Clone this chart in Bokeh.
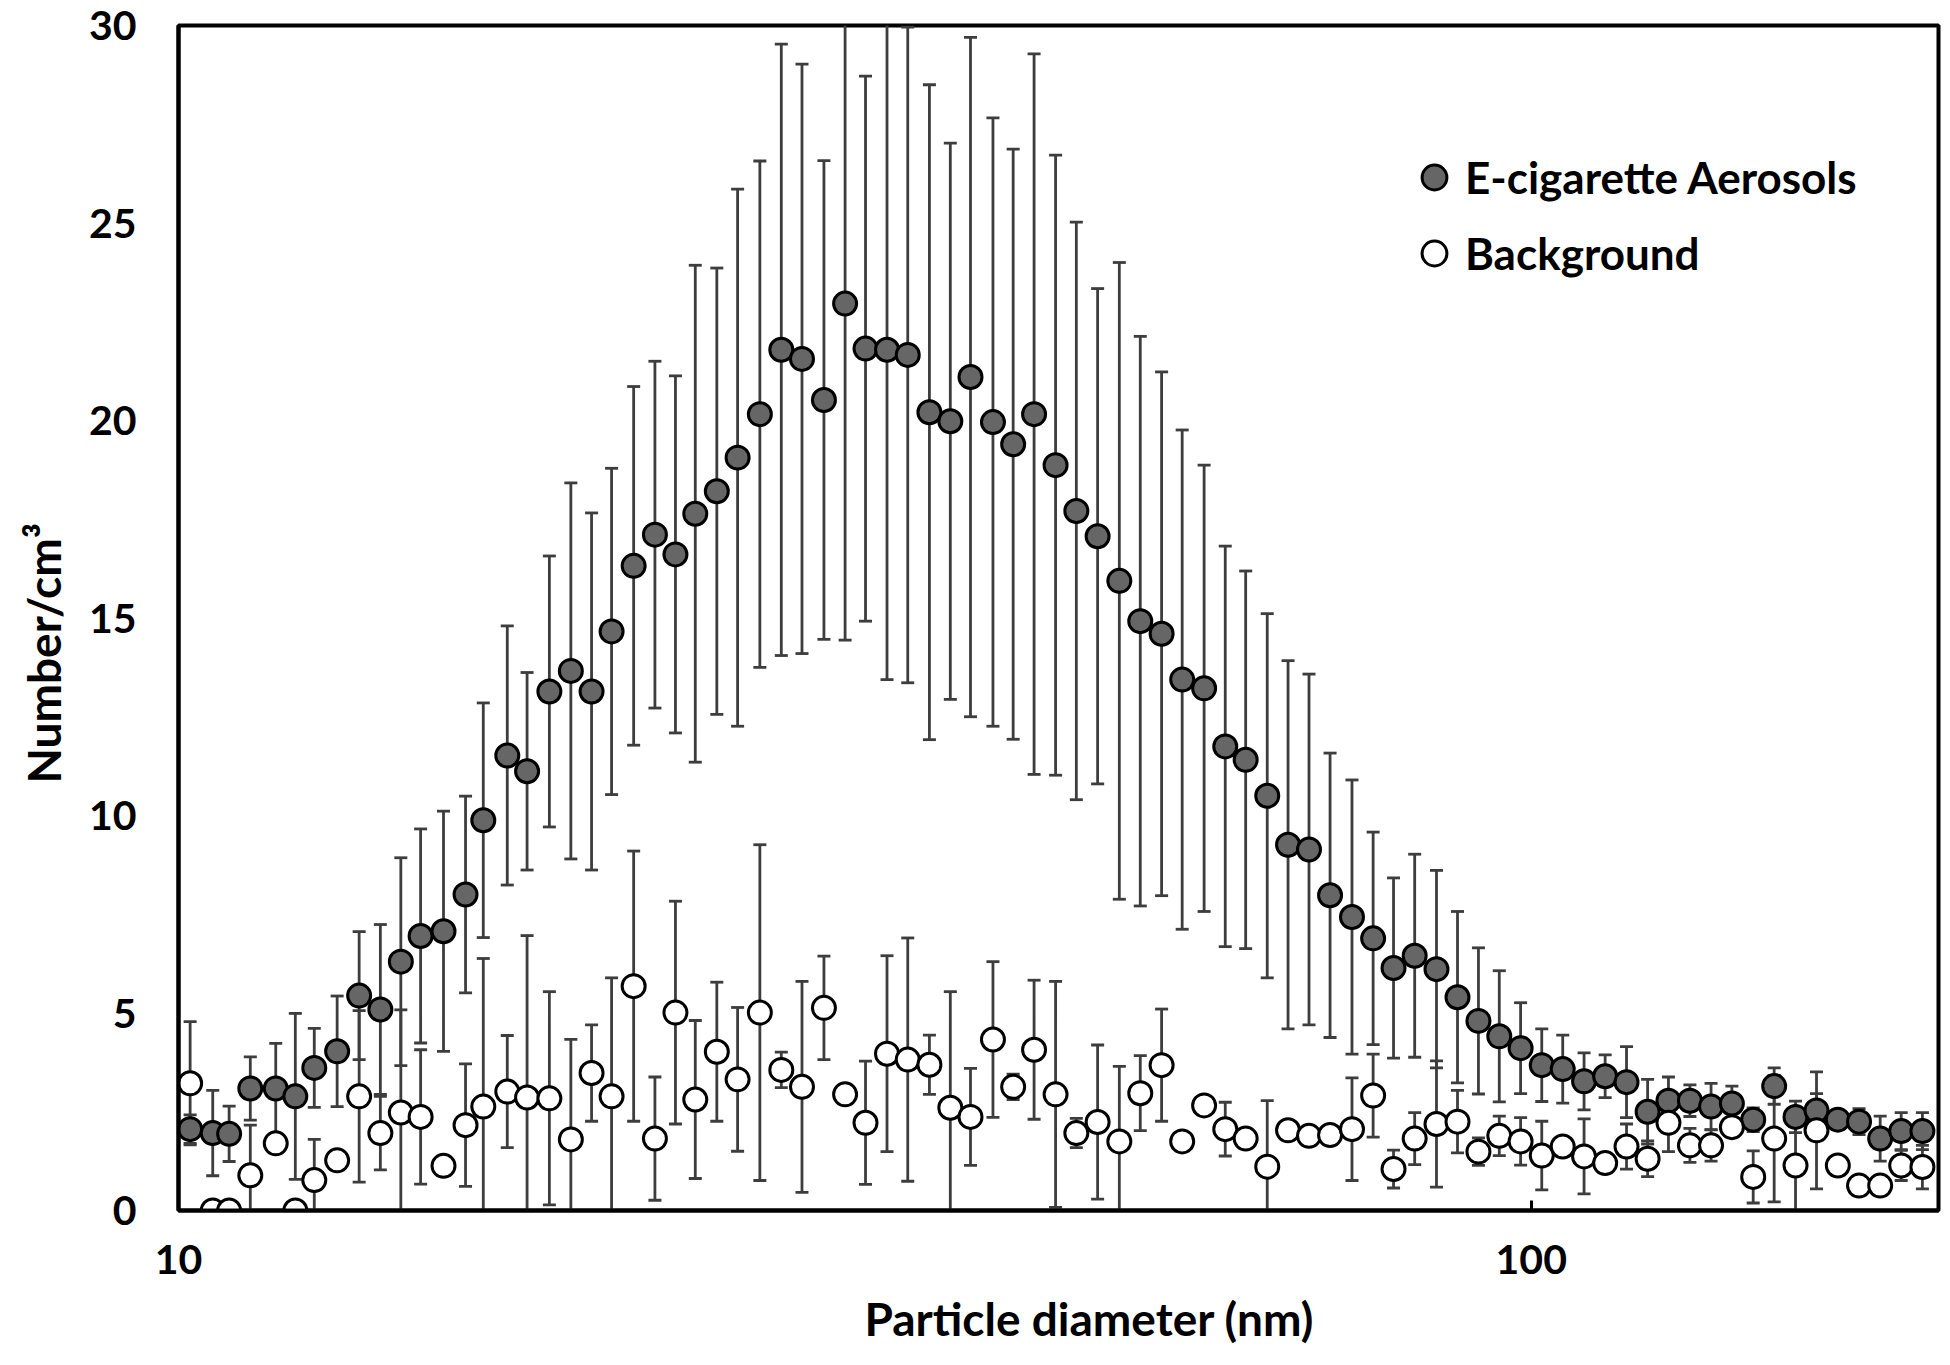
from bokeh.plotting import figure
from bokeh.models import ColumnDataSource, Range1d, FixedTicker, Legend, LegendItem, Title
from bokeh.embed import file_html
from bokeh.resources import INLINE

# ---------------- data ----------------
diameter_nm = [10.2, 10.6, 10.9, 11.3, 11.8, 12.2, 12.6, 13.1, 13.6, 14.1, 14.6, 15.1, 15.7, 16.3,
               16.8, 17.5, 18.1, 18.8, 19.5, 20.2, 20.9, 21.7, 22.5, 23.3, 24.1, 25.0, 25.9, 26.9,
               27.9, 28.9, 30.0, 31.1, 32.2, 33.4, 34.6, 35.9, 37.2, 38.5, 40.0, 41.4, 42.9, 44.5,
               46.1, 47.8, 49.6, 51.4, 53.3, 55.2, 57.3, 59.4, 61.5, 63.8, 66.1, 68.5, 71.0, 73.7,
               76.4, 79.1, 82.0, 85.1, 88.2, 91.4, 94.7, 98.2, 101.8, 105.5, 109.4, 113.4, 117.6,
               121.9, 126.3, 131.0, 135.8, 140.7, 145.9, 151.2, 156.8, 162.5, 168.5, 174.7, 181.1,
               187.7, 194.6]

ecig_mean = [2.06, 1.96, 1.94, 3.09, 3.09, 2.89, 3.61, 4.03, 5.44, 5.09, 6.30, 6.95, 7.07, 8.00,
             9.88, 11.52, 11.12, 13.14, 13.66, 13.14, 14.66, 16.32, 17.11, 16.61, 17.64, 18.21, 19.06,
             20.16, 21.79, 21.56, 20.52, 22.96, 21.82, 21.79, 21.66, 20.21, 19.98, 21.10, 19.96, 19.40,
             20.16, 18.87, 17.71, 17.07, 15.94, 14.92, 14.60, 13.44, 13.22, 11.75, 11.41, 10.50, 9.26,
             9.14, 7.98, 7.43, 6.89, 6.14, 6.45, 6.11, 5.40, 4.80, 4.41, 4.11, 3.68, 3.58, 3.27, 3.40,
             3.25, 2.50, 2.78, 2.78, 2.63, 2.71, 2.30, 3.15, 2.37, 2.53, 2.30, 2.25, 1.82, 2.01, 2.01]

ecig_sd = [0.36, 1.08, 0.70, 0.80, 1.14, 2.10, 1.00, 1.40, 1.62, 2.15, 2.63, 2.71, 3.04, 2.49,
           2.97, 3.28, 2.50, 3.43, 4.76, 4.52, 4.13, 4.54, 4.39, 4.52, 6.29, 5.65, 6.80, 6.41,
           7.74, 7.46, 6.06, 8.52, 6.90, 8.35, 8.30, 8.29, 7.04, 8.60, 7.70, 7.47, 9.12, 7.85,
           7.31, 6.27, 8.06, 7.21, 6.63, 6.32, 5.65, 5.07, 4.78, 4.61, 4.66, 4.44, 3.60, 3.47,
           2.69, 2.28, 2.57, 2.50, 2.17, 1.85, 1.66, 1.15, 0.92, 0.86, 0.72, 0.54, 0.90, 0.82,
           0.60, 0.40, 0.59, 0.44, 0.30, 0.46, 0.40, 0.43, 0.25, 0.33, 0.57, 0.47, 0.47]

bg_mean = [3.22, 0.00, 0.00, 0.89, 1.70, 0.00, 0.77, 1.27, 2.89, 1.96, 2.48, 2.37, 1.13, 2.16,
           2.63, 3.01, 2.86, 2.84, 1.80, 3.48, 2.89, 5.68, 1.82, 5.01, 2.81, 4.02, 3.32, 5.01,
           3.56, 3.13, 5.13, 2.94, 2.22, 3.97, 3.82, 3.69, 2.60, 2.37, 4.33, 3.13, 4.07, 2.94,
           1.96, 2.24, 1.75, 2.97, 3.68, 1.75, 2.66, 2.06, 1.82, 1.11, 2.03, 1.89, 1.91, 2.06,
           2.91, 1.05, 1.82, 2.19, 2.25, 1.49, 1.89, 1.75, 1.39, 1.62, 1.37, 1.20, 1.62, 1.31,
           2.22, 1.65, 1.65, 2.11, 0.85, 1.82, 1.14, 2.03, 1.14, 0.63, 0.63, 1.14, 1.10]

bg_sd = [1.56, 0.00, 0.00, 1.27, 0.20, 0.00, 1.03, 0.20, 2.17, 0.93, 2.60, 1.70, 0.20, 1.55,
         3.75, 1.42, 4.10, 2.70, 2.53, 1.22, 3.00, 3.42, 1.56, 2.82, 2.00, 1.76, 1.82, 4.25,
         0.45, 2.67, 1.31, 0.20, 1.56, 2.48, 3.08, 0.75, 2.94, 1.23, 1.97, 0.32, 1.76, 2.86,
         0.37, 1.95, 1.90, 0.95, 1.42, 0.20, 0.20, 0.68, 0.20, 1.67, 0.20, 0.20, 0.20, 1.30,
         1.05, 0.48, 0.66, 1.60, 0.79, 0.35, 0.50, 0.60, 0.87, 0.20, 0.95, 0.20, 0.57, 0.45,
         0.73, 0.43, 0.40, 0.20, 0.66, 1.60, 1.15, 1.48, 0.20, 0.20, 0.20, 0.38, 0.55]

x_tick_values = [10, 100]
x_tick_labels = ["10", "100"]
y_tick_values = [0, 5, 10, 15, 20, 25, 30]

series_names = ["E-cigarette Aerosols", "Background"]
x_label = "Particle diameter (nm)"
y_label = "Number/cm³"

# ---------------- sources ----------------
src_ecig = ColumnDataSource(dict(
    x=diameter_nm, y=ecig_mean,
    lo=[m - s for m, s in zip(ecig_mean, ecig_sd)],
    hi=[m + s for m, s in zip(ecig_mean, ecig_sd)]))
src_bg = ColumnDataSource(dict(
    x=diameter_nm, y=bg_mean,
    lo=[m - s for m, s in zip(bg_mean, bg_sd)],
    hi=[m + s for m, s in zip(bg_mean, bg_sd)]))

FONT = "Lato"
ERR = "#3d3d3d"

p = figure(x_axis_type="log",
           x_range=Range1d(10, 200), y_range=Range1d(0, 30),
           frame_width=1760, frame_height=1185,
           min_border_left=178, min_border_top=25, min_border_right=4, min_border_bottom=100,
           output_backend="svg", toolbar_location=None,
           background_fill_color="white", border_fill_color="white")

p.xgrid.visible = False
p.ygrid.visible = False
p.outline_line_color = "black"
p.outline_line_width = 4
p.outline_line_alpha = 1.0

# error bars (both series, beneath markers)
for src in (src_ecig, src_bg):
    p.segment(x0="x", y0="lo", x1="x", y1="hi", source=src, line_color=ERR, line_width=2.8)
    p.scatter(x="x", y="hi", source=src, marker="dash", size=13, line_color=ERR, line_width=2.8)
    p.scatter(x="x", y="lo", source=src, marker="dash", size=13, line_color=ERR, line_width=2.8)

r_ecig = p.scatter(x="x", y="y", source=src_ecig, marker="circle", size=23,
                   fill_color="#666666", line_color="black", line_width=3)
r_bg = p.scatter(x="x", y="y", source=src_bg, marker="circle", size=23,
                 fill_color="white", line_color="black", line_width=3)

# axes
xa = p.xaxis[0]
xa.ticker = FixedTicker(ticks=x_tick_values, minor_ticks=[])
xa.major_label_overrides = {v: t for v, t in zip(x_tick_values, x_tick_labels)}
xa.axis_line_color = "black"
xa.axis_line_width = 4
xa.major_tick_in = 10
xa.major_tick_out = 0
xa.major_tick_line_width = 3
xa.minor_tick_line_color = None
xa.major_label_standoff = 34

ya = p.yaxis[0]
ya.ticker = FixedTicker(ticks=y_tick_values, minor_ticks=[])
ya.axis_line_color = "black"
ya.axis_line_width = 4
ya.major_tick_in = 0
ya.major_tick_out = 0
ya.minor_tick_line_color = None
ya.major_label_standoff = 42

for ax in (xa, ya):
    ax.major_label_text_font = FONT
    ax.major_label_text_font_style = "bold"
    ax.major_label_text_font_size = "41px"
    ax.major_label_text_color = "black"

# axis titles, positioned like the reference
p.add_layout(Title(text=x_label, align="left", offset=686, vertical_align="top", standoff=28,
                   text_font=FONT, text_font_style="bold", text_font_size="46px",
                   text_color="black"), "below")
p.add_layout(Title(text=y_label, align="left", offset=427, vertical_align="top", standoff=26,
                   text_font=FONT, text_font_style="bold", text_font_size="46px",
                   text_color="black"), "left")

legend = Legend(items=[LegendItem(label=series_names[0], renderers=[r_ecig]),
                       LegendItem(label=series_names[1], renderers=[r_bg])],
                location=(1225, 926), orientation="vertical",
                glyph_width=62, glyph_height=62, spacing=14, padding=0, margin=0,
                label_standoff=0, border_line_color=None, background_fill_alpha=0,
                label_text_font=FONT, label_text_font_style="bold",
                label_text_font_size="44px", label_text_color="black")
p.add_layout(legend)

open("out.html", "w").write(file_html(p, INLINE))
